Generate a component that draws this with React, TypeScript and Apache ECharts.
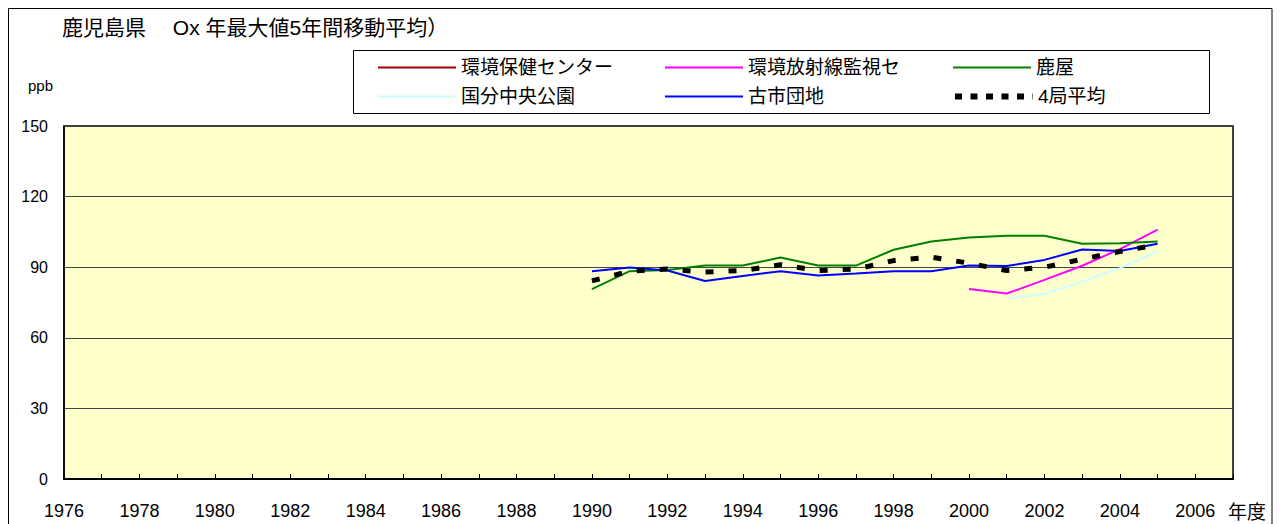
import React, { useEffect, useRef } from "react";
import * as echarts from "echarts";

const years = [1990, 1991, 1992, 1993, 1994, 1995, 1996, 1997, 1998, 1999, 2000, 2001, 2002, 2003, 2004, 2005];
const seriesNames = ["環境保健センター", "環境放射線監視セ", "鹿屋", "国分中央公園", "古市団地", "4局平均"];
const hokenCenter: (number | null)[] = [null, null, null, null, null, null, null, null, null, null, null, null, null, null, null, null];
const hoshasen: (number | null)[] = [null, null, null, null, null, null, null, null, null, null, 80.7, 78.8, 84.6, 90.6, 97.7, 106.0];
const kanoya: (number | null)[] = [80.7, 88.3, 88.8, 90.7, 90.7, 94.1, 90.7, 90.7, 97.4, 100.9, 102.6, 103.4, 103.4, 100.0, 100.2, 100.9];
const kokubu: (number | null)[] = [null, null, null, null, null, null, null, null, null, null, null, 76.6, 78.7, 83.9, 89.6, 96.7];
const furuichi: (number | null)[] = [88.3, 89.9, 88.6, 84.1, 86.3, 88.3, 86.5, 87.3, 88.3, 88.3, 90.7, 90.5, 93.1, 97.5, 96.9, 100.0];
const average4: (number | null)[] = [84.2, 88.3, 89.2, 87.9, 88.6, 91.0, 88.6, 89.2, 92.8, 94.3, 91.7, 88.6, 90.0, 93.4, 96.7, 99.5];
const xMin = 1976;
const xMax = 2007;
const xLabelMax = 2006;
const yTicks = [0, 30, 60, 90, 120, 150];

const FONT = "'Liberation Sans', 'Noto Sans CJK JP', sans-serif";

export default function App() {
  const ref = useRef<HTMLDivElement>(null);
  useEffect(() => {
    if (!ref.current) return;
    const chart = echarts.init(ref.current, undefined, { renderer: "svg" });
    const pairs = (vals: (number | null)[]) => years.map((y, i) => [y, vals[i]]);
    const valuesList = [hokenCenter, hoshasen, kanoya, kokubu, furuichi, average4];
    const colors = ["#990000", "#FF00FF", "#008000", "#CCFFFF", "#0000FF", "#000000"];
    const series = seriesNames.map((name, i) => ({
      name,
      type: "line",
      data: pairs(valuesList[i]),
      symbol: "none",
      connectNulls: false,
      lineStyle:
        i === 5
          ? { color: colors[i], width: 5, type: [8, 15] }
          : { color: colors[i], width: 2 },
      itemStyle: { color: colors[i] },
      z: i === 5 ? 5 : 3,
    }));
    const colLeft = [369, 656, 944];
    const rowTop = [50, 79];
    const legends = seriesNames.map((name, i) => {
      const lg: any = {
        data: [name],
        left: colLeft[i % 3],
        top: rowTop[Math.floor(i / 3)],
        padding: 0,
        itemWidth: 78,
        itemHeight: 14,
        selectedMode: false,
        itemStyle: { opacity: 0 },
        textStyle: { fontSize: 19, color: "#000", fontFamily: FONT },
      };
      if (i === 5) lg.lineStyle = { width: 6, type: [7, 8.5], color: "#000" };
      return lg;
    });
    chart.setOption({
      animation: false,
      backgroundColor: "#fff",
      legend: legends,
      grid: {
        left: 56,
        top: 118,
        width: 1169,
        height: 353,
        show: true,
        backgroundColor: "#FFFFCC",
        borderColor: "#000",
        borderWidth: 1.5,
        containLabel: false,
      },
      xAxis: {
        type: "value",
        min: xMin,
        max: xMax,
        interval: 1,
        splitLine: { show: false },
        axisLine: { show: true, lineStyle: { color: "#000", width: 2 } },
        axisTick: { show: true, inside: true, length: 5, lineStyle: { color: "#000" } },
        axisLabel: {
          color: "#000",
          fontSize: 18,
          fontFamily: FONT,
          margin: 23,
          formatter: (v: number) => (v % 2 === 0 && v <= xLabelMax ? String(v) : ""),
        },
      },
      yAxis: {
        type: "value",
        min: yTicks[0],
        max: yTicks[yTicks.length - 1],
        interval: 30,
        axisLine: { show: true, lineStyle: { color: "#000", width: 1.5 } },
        axisTick: { show: false },
        splitLine: { show: true, lineStyle: { color: "#444", width: 1 } },
        axisLabel: { color: "#000", fontSize: 16, fontFamily: FONT, margin: 16 },
      },
      graphic: [
        {
          type: "rect",
          shape: { x: 0.5, y: 0.5, width: 1263.5, height: 600 },
          style: { fill: "none", stroke: "#000", lineWidth: 1 },
          silent: true,
          z: 0,
        },
        {
          type: "rect",
          shape: { x: 345.5, y: 42.5, width: 856, height: 63 },
          style: { fill: "#fff", stroke: "#000", lineWidth: 1 },
          silent: true,
          z: 0,
        },
        {
          type: "text",
          x: 54,
          y: 19,
          style: {
            text: "鹿児島県　 Ox 年最大値5年間移動平均）",
            fontSize: 21,
            fontFamily: FONT,
            fill: "#000",
            verticalAlign: "middle",
          },
        },
        {
          type: "text",
          x: 20,
          y: 77,
          style: { text: "ppb", fontSize: 15, fontFamily: FONT, fill: "#000", verticalAlign: "middle" },
        },
        {
          type: "text",
          x: 1220,
          y: 504,
          style: { text: "年度", fontSize: 19, fontFamily: FONT, fill: "#000", verticalAlign: "middle" },
        },
      ],
      series,
    });
    return () => chart.dispose();
  }, []);
  return <div ref={ref} style={{ width: 1266, height: 516 }} />;
}
